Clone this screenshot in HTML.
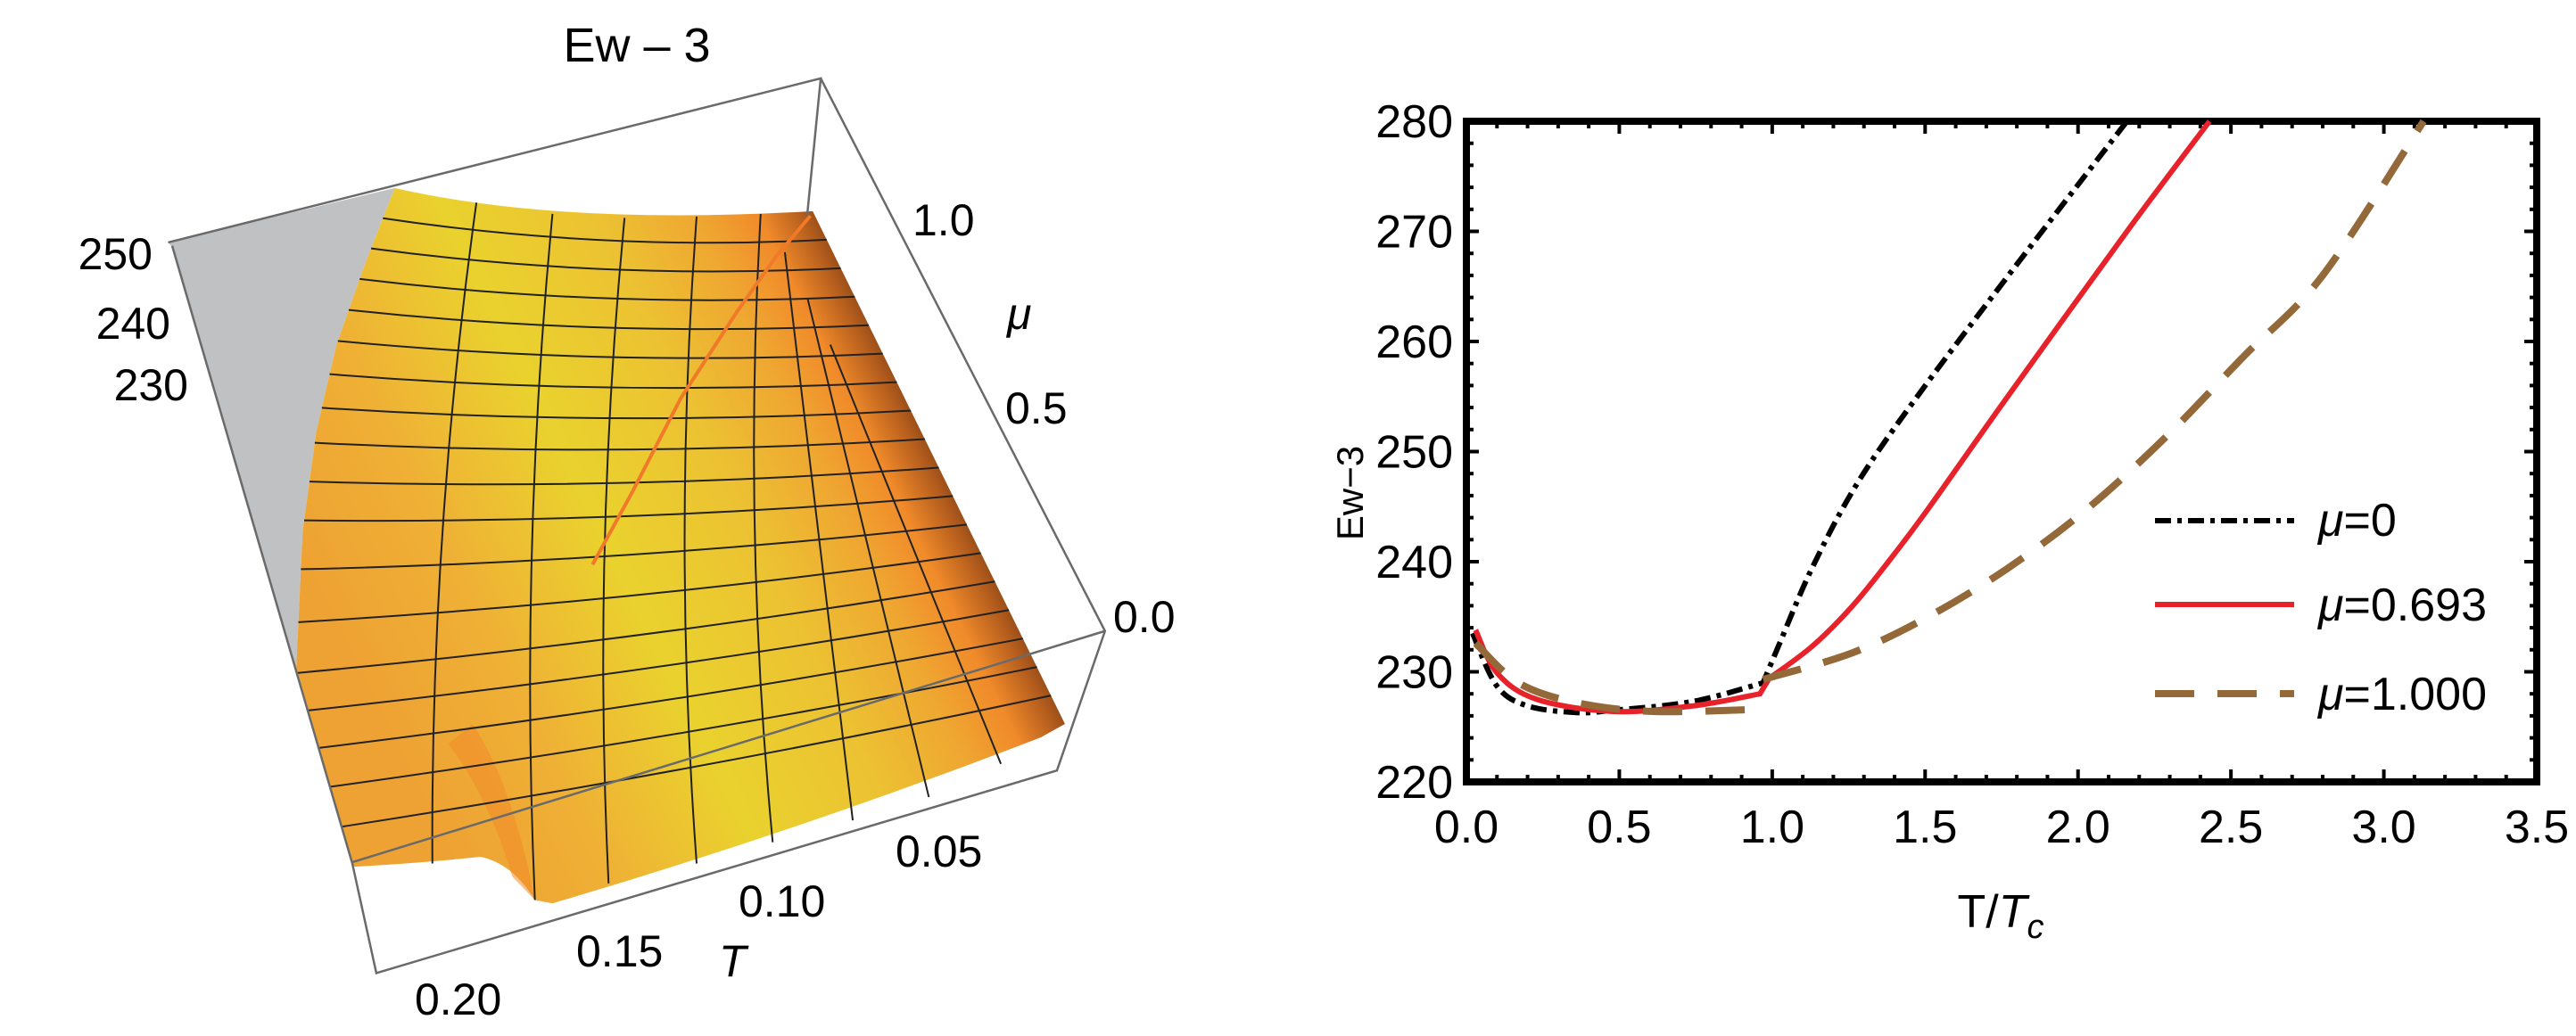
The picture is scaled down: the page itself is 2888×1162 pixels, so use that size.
<!DOCTYPE html>
<html><head><meta charset="utf-8"><style>
html,body{margin:0;padding:0;background:#fff;}
svg{display:block;}
text{font-family:"Liberation Sans",sans-serif;}
</style></head><body>
<svg id="s" width="2888" height="1162" viewBox="0 0 2888 1162" xmlns="http://www.w3.org/2000/svg">
<defs>
<linearGradient id="sg" gradientUnits="userSpaceOnUse" x1="400" y1="900" x2="1200" y2="574">
<stop offset="0" stop-color="#eea233"/>
<stop offset="0.2" stop-color="#efb035"/>
<stop offset="0.42" stop-color="#ead22e"/>
<stop offset="0.62" stop-color="#ecc232"/>
<stop offset="0.76" stop-color="#efa631"/>
<stop offset="0.84" stop-color="#f08a2a"/>
<stop offset="0.9" stop-color="#b05a1c"/>
<stop offset="0.97" stop-color="#4a2810"/>
</linearGradient>
</defs>
<g transform="scale(0.8977,0.745)">
<polygon points="210,365 493,283 455,400 420,520 395,650 378,800 370,1005 215,372" fill="#c0c1c3"/>
<path d="M493,283 Q700,340 1015,318 L1330,1090 L1300,1110 Q1000,1250 690,1360 L668,1355 Q640,1300 600,1290 Q520,1300 440,1305 L405,1150 L370,1005 L378,800 L395,650 L420,520 L455,400 Z" fill="url(#sg)"/>
<path d="M590,1090 Q640,1180 668,1355 L640,1320 Q610,1200 560,1120 Z" fill="#f08a2a" opacity="0.55"/>
<g id="grid" fill="none" stroke="#222" stroke-width="2" vector-effect="non-scaling-stroke"></g>
<path d="M740,850 L790,740 L850,600 L920,470 L970,385 L1012,325" stroke="#f07a2a" stroke-width="4" fill="none" vector-effect="non-scaling-stroke"/>
<g stroke="#6a6a6a" stroke-width="2.5" fill="none">
<path d="M210,365 L1025,118 L1008,325" vector-effect="non-scaling-stroke"/>
<path d="M1025,118 L1380,950 L1320,1160 L470,1465 L440,1300 L215,370" vector-effect="non-scaling-stroke"/>
<path d="M440,1298 L1380,950" vector-effect="non-scaling-stroke"/>
</g>
</g>
<text x="714" y="69" font-size="54" text-anchor="middle">Ew – 3</text>
<g font-size="50">
<text x="171" y="302" text-anchor="end">250</text>
<text x="191" y="380" text-anchor="end">240</text>
<text x="211" y="449" text-anchor="end">230</text>
<text x="1023" y="264">1.0</text>
<text x="1129" y="369" font-style="italic">μ</text>
<text x="1127" y="475">0.5</text>
<text x="1248" y="709">0.0</text>
<text x="1004" y="972">0.05</text>
<text x="828" y="1028">0.10</text>
<text x="646" y="1084">0.15</text>
<text x="806" y="1095" font-style="italic">T</text>
<text x="465" y="1138">0.20</text>
</g>

<g id="ticks" stroke="#000" stroke-width="4"></g>
<rect x="1644" y="136" width="1200" height="741" fill="none" stroke="#000" stroke-width="8"/>
<g id="curves" fill="none"></g>
<g fill="none">
<path d="M2416,584 L2572,584" stroke="#000" stroke-width="6" stroke-dasharray="18,7,5,7"/>
<path d="M2416,678 L2572,678" stroke="#e8222a" stroke-width="6"/>
<path d="M2416,778 L2572,778" stroke="#94693a" stroke-width="8" stroke-dasharray="44,26"/>
</g>
<g font-size="52">
<text x="2599" y="601"><tspan font-style="italic">μ</tspan>=0</text>
<text x="2599" y="696"><tspan font-style="italic">μ</tspan>=0.693</text>
<text x="2599" y="796"><tspan font-style="italic">μ</tspan>=1.000</text>
</g>
<g id="lab" font-size="52"></g>
<text x="2243" y="1040" font-size="52" text-anchor="middle">T/<tspan font-style="italic">T</tspan><tspan font-style="italic" font-size="38" dy="12">c</tspan></text>
<text transform="translate(1528,553) rotate(-90)" font-size="42" text-anchor="middle">Ew−3</text>
</svg>
<script>
var NS="http://www.w3.org/2000/svg";
function el(p,t,a,txt){var e=document.createElementNS(NS,t);for(var k in a)e.setAttribute(k,a[k]);if(txt!==undefined)e.textContent=txt;p.appendChild(e);return e;}
var Lp=[[493,283],[455,400],[420,520],[395,650],[378,800],[370,1005],[405,1150],[440,1305]];
function poly(pts,t){var n=pts.length-1,f=t*n,i=Math.min(Math.floor(f),n-1),u=f-i;return [pts[i][0]+(pts[i+1][0]-pts[i][0])*u,pts[i][1]+(pts[i+1][1]-pts[i][1])*u];}
function R(t){return [1015+315*t,318+772*t];}
var g=document.getElementById('grid');
function P(d){el(g,'path',{d:d,'vector-effect':'non-scaling-stroke'});}
for(var i=1;i<18;i++){var t=i/18;var a=poly(Lp,t),b=R(t);var cx=(a[0]+b[0])/2,cy=(a[1]+b[1])/2+35-20*t;
P('M'+a[0]+','+a[1]+' Q'+cx+','+cy+' '+b[0]+','+b[1]);}
var tops=[[595,305],[690,322],[780,328],[870,326],[950,322]];
var bots=[[540,1300],[668,1355],[760,1330],[870,1300],[965,1268]];
var extraB=[[1065,1235],[1160,1200],[1250,1150]];
for(var j=0;j<5;j++){var a=tops[j],b=bots[j];P('M'+a[0]+','+a[1]+' Q'+((a[0]+b[0])/2-30)+','+((a[1]+b[1])/2)+' '+b[0]+','+b[1]);}
for(var j=0;j<3;j++){var s=0.08+j*0.09;var a=[1015+315*s-60,318+772*s],b=extraB[j];P('M'+a[0]+','+a[1]+' L'+b[0]+','+b[1]);}
var X=function(T){return 1644+T*1200/3.5;},Y=function(v){return 877-(v-220)*741/60;};
function cr(pts){var p=pts.map(function(q){return [X(q[0]),Y(q[1])];});var d='M'+p[0][0].toFixed(1)+','+p[0][1].toFixed(1);
for(var i=0;i<p.length-1;i++){var p0=p[i-1]||p[i],p1=p[i],p2=p[i+1],p3=p[i+2]||p2;
var c1=[p1[0]+(p2[0]-p0[0])/6,p1[1]+(p2[1]-p0[1])/6],c2=[p2[0]-(p3[0]-p1[0])/6,p2[1]-(p3[1]-p1[1])/6];
d+=' C'+c1[0].toFixed(1)+','+c1[1].toFixed(1)+' '+c2[0].toFixed(1)+','+c2[1].toFixed(1)+' '+p2[0].toFixed(1)+','+p2[1].toFixed(1);}return d;}
var cv=document.getElementById('curves');
el(cv,'path',{d:cr([[0.02,233.5],[0.1,228.7],[0.2,226.9],[0.36,226.3],[0.48,226.5],[0.74,227.3],[0.97,229.0]])+' '+cr([[0.97,229.0],[1.02,232.3],[1.13,239.4],[1.28,247.2],[1.49,255.6],[1.8,267],[2.16,280]]).replace('M','L'),stroke:'#000','stroke-width':6,'stroke-dasharray':'18,7,5,7'});
el(cv,'path',{d:cr([[0.03,233.8],[0.1,229.9],[0.23,227.5],[0.48,226.4],[0.74,226.9],[0.96,228.0]])+' L'+X(0.99)+','+Y(229.4)+' '+cr([[0.99,229.4],[1.13,232.3],[1.26,235.9],[1.38,240],[1.51,244.8],[1.77,255],[2.16,270],[2.43,280]]).replace('M','L'),stroke:'#e8222a','stroke-width':6});
el(cv,'path',{d:cr([[0.03,232.6],[0.17,229],[0.36,227.2],[0.61,226.4],[0.97,226.6]]),stroke:'#94693a','stroke-width':8,'stroke-dasharray':'44,26'});
el(cv,'path',{d:cr([[0.97,229.3],[1.26,231.7],[1.51,235],[1.77,239.4],[2.03,244.8],[2.29,251.4],[2.54,258.6],[2.8,266.0],[3.13,280]]),stroke:'#94693a','stroke-width':8,'stroke-dasharray':'44,26'});
var tk=document.getElementById('ticks'),lab=document.getElementById('lab');
for(var k=0;k<=35;k++){var x=X(k/10),L=(k%5==0)?14:8;
el(tk,'line',{x1:x,y1:877,x2:x,y2:877-L});el(tk,'line',{x1:x,y1:136,x2:x,y2:136+L});
if(k%5==0)el(lab,'text',{x:x,y:945,'text-anchor':'middle'},(k/10).toFixed(1));}
for(var k=0;k<=30;k++){var y=Y(220+k*2),L=(k%5==0)?14:8;
el(tk,'line',{x1:1644,y1:y,x2:1644+L,y2:y});el(tk,'line',{x1:2844,y1:y,x2:2844-L,y2:y});
if(k%5==0)el(lab,'text',{x:1629,y:y+18,'text-anchor':'end'},String(220+k*2));}
</script>
</body></html>
